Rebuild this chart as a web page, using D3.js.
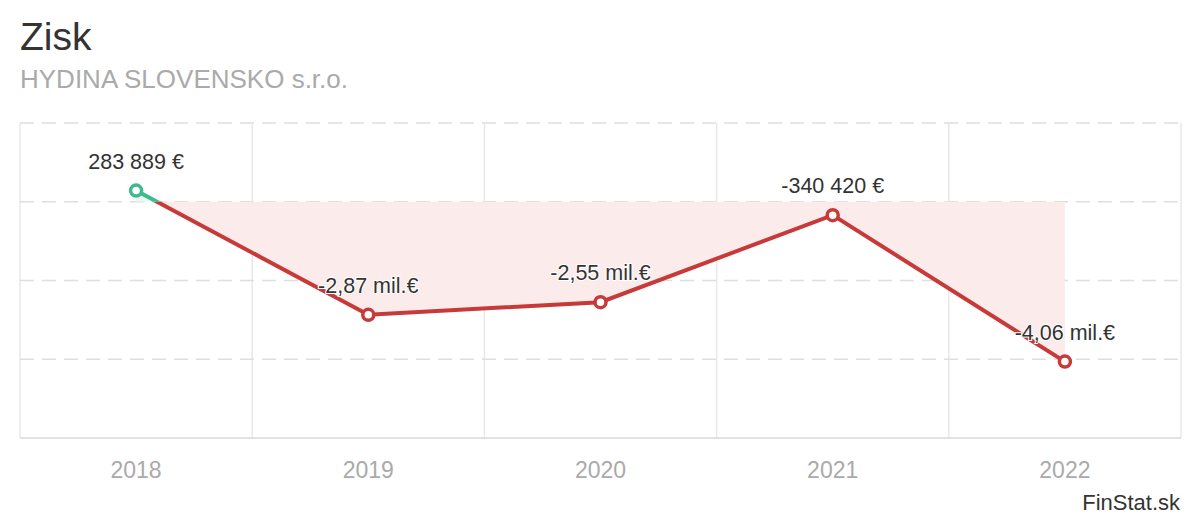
<!DOCTYPE html>
<html>
<head>
<meta charset="utf-8">
<script src="https://cdn.jsdelivr.net/npm/d3@7"></script>
<style>
  body { margin: 0; background: #fff; font-family: "Liberation Sans", Arial, sans-serif; }
</style>
</head>
<body>
<div id="chart"></div>
<script>
// chart data
const years = ["2018", "2019", "2020", "2021", "2022"];
const profit = [283889, -2870000, -2550000, -340420, -4060000];
const valueLabels = ["283 889 €", "-2,87 mil.€", "-2,55 mil.€", "-340 420 €", "-4,06 mil.€"];
const yTicks = [2000000, 0, -2000000, -4000000, -6000000];

const width = 1200, height = 520;
const plotLeft = 20, plotRight = 1181, plotTop = 123, plotBottom = 438;

const red = "#c8393a", green = "#3dbb8b";

const svg = d3.select("#chart").append("svg")
    .attr("width", width)
    .attr("height", height)
    .style("font-family", "'Liberation Sans', Arial, sans-serif");

const x = d3.scaleBand().domain(years).range([plotLeft, plotRight]);
const y = d3.scaleLinear().domain([-6000000, 2000000]).range([plotBottom, plotTop]);
const cx = d => x(d) + x.bandwidth() / 2;

// titles
svg.append("text").attr("x", 20).attr("y", 50)
    .attr("font-size", 39).attr("fill", "#333").text("Zisk");
svg.append("text").attr("x", 20).attr("y", 88)
    .attr("font-size", 26).attr("fill", "#aaa").text("HYDINA SLOVENSKO s.r.o.");

// vertical grid
const xEdges = years.map(d => x(d)).concat([plotRight]);
svg.append("g").selectAll("line").data(xEdges).join("line")
    .attr("x1", d => d).attr("x2", d => d)
    .attr("y1", plotTop).attr("y2", plotBottom)
    .attr("stroke", "#e8e8e8").attr("stroke-width", 1.5);

// horizontal dashed grid
svg.append("g").selectAll("line").data(yTicks.filter(t => t !== -6000000)).join("line")
    .attr("x1", plotLeft).attr("x2", plotRight)
    .attr("y1", d => y(d)).attr("y2", d => y(d))
    .attr("stroke", "#dedede").attr("stroke-width", 1.5)
    .attr("stroke-dasharray", "14,8");

// bottom axis line
svg.append("line")
    .attr("x1", plotLeft).attr("x2", plotRight)
    .attr("y1", y(-6000000)).attr("y2", y(-6000000))
    .attr("stroke", "#e2e2e2").attr("stroke-width", 2);

// x tick labels
svg.append("g").selectAll("text").data(years).join("text")
    .attr("x", d => cx(d)).attr("y", 478)
    .attr("text-anchor", "middle")
    .attr("font-size", 23).attr("fill", "#aaa")
    .text(d => d);

const pts = years.map((d, i) => ({ year: d, v: profit[i], label: valueLabels[i] }));
const zero = y(0);

// clips for above / below zero
const defs = svg.append("defs");
defs.append("clipPath").attr("id", "above")
    .append("rect").attr("x", 0).attr("y", 0).attr("width", width).attr("height", zero);
defs.append("clipPath").attr("id", "below")
    .append("rect").attr("x", 0).attr("y", zero).attr("width", width).attr("height", height - zero);

const area = d3.area().x(d => cx(d.year)).y0(zero).y1(d => y(d.v));
const line = d3.line().x(d => cx(d.year)).y(d => y(d.v));

svg.append("path").datum(pts).attr("d", area)
    .attr("fill", "#fbeceb").attr("clip-path", "url(#below)");
svg.append("path").datum(pts).attr("d", area)
    .attr("fill", "#e8f7f1").attr("clip-path", "url(#above)");

svg.append("path").datum(pts).attr("d", line)
    .attr("fill", "none").attr("stroke", red).attr("stroke-width", 4)
    .attr("clip-path", "url(#below)");
svg.append("path").datum(pts).attr("d", line)
    .attr("fill", "none").attr("stroke", green).attr("stroke-width", 4)
    .attr("clip-path", "url(#above)");

// points
svg.append("g").selectAll("circle").data(pts).join("circle")
    .attr("cx", d => cx(d.year)).attr("cy", d => y(d.v))
    .attr("r", 5.5)
    .attr("fill", "#fff")
    .attr("stroke", d => d.v >= 0 ? green : red)
    .attr("stroke-width", 3.5);

// value labels
svg.append("g").selectAll("text").data(pts).join("text")
    .attr("x", d => cx(d.year)).attr("y", d => y(d.v) - 22)
    .attr("text-anchor", "middle")
    .attr("font-size", 21.5).attr("fill", "#333")
    .attr("stroke", "#fff").attr("stroke-width", 2).attr("paint-order", "stroke")
    .text(d => d.label);

// credit
svg.append("text").attr("x", 1180).attr("y", 510)
    .attr("text-anchor", "end")
    .attr("font-size", 22).attr("fill", "#333").text("FinStat.sk");
</script>
</body>
</html>
